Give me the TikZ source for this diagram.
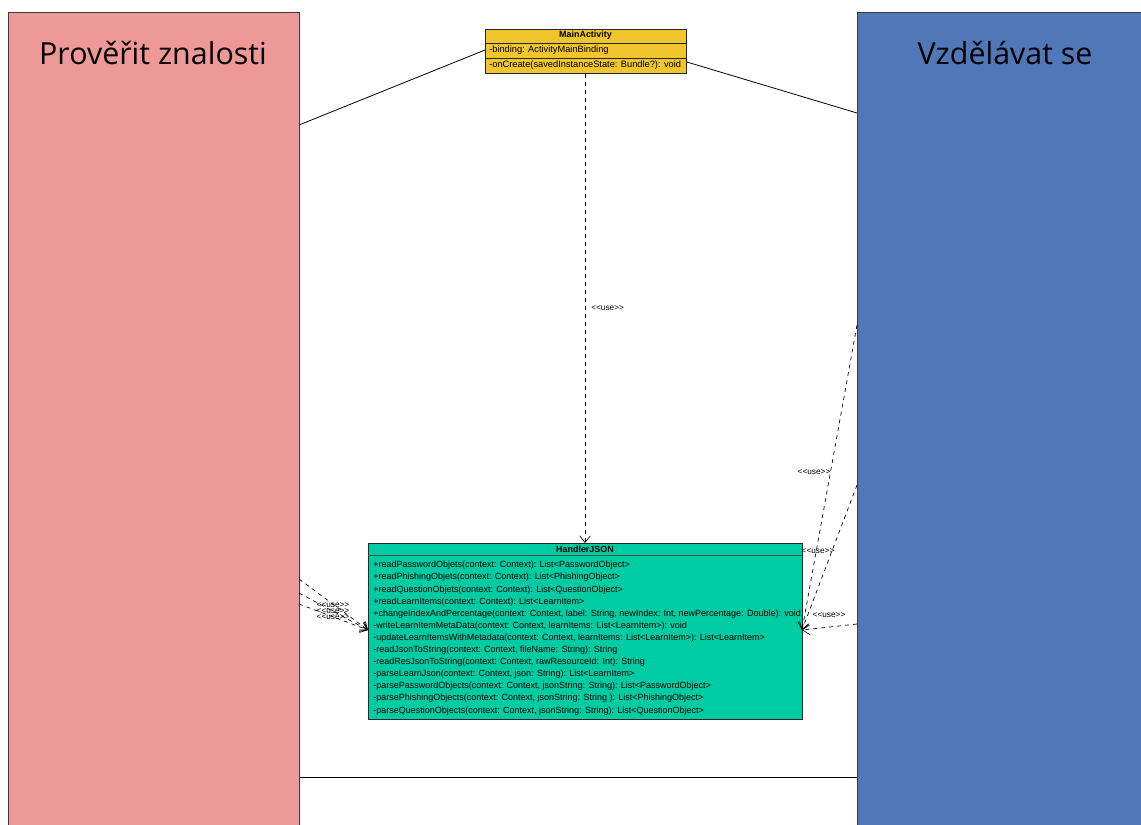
\documentclass[tikz,border=0pt]{standalone}
\usepackage{fontspec}
\setmainfont{Liberation Sans}
\newfontfamily\titlefont{Open Sans}
\usetikzlibrary{arrows.meta}
\definecolor{pinkc}{RGB}{238,153,152}
\definecolor{bluec}{RGB}{80,120,184}
\definecolor{goldc}{RGB}{240,197,46}
\definecolor{tealc}{RGB}{0,204,163}
\definecolor{edgec}{RGB}{60,60,60}
\tikzset{
  panel/.style={draw=edgec, line width=0.8pt, anchor=north west, inner sep=0pt},
  ptitle/.style={font=\titlefont\fontsize{22.8}{26}\selectfont, inner sep=0pt},
  umlbox/.style={draw=black!85, line width=0.6pt, anchor=north west, inner sep=0pt},
  umlhead/.style={font=\bfseries\fontsize{6.7}{7}\selectfont, inner sep=0pt},
  umlrow/.style={font=\fontsize{6.75}{7}\selectfont, anchor=west, inner sep=0pt},
  marow/.style={font=\fontsize{6.95}{7}\selectfont, anchor=west, inner sep=0pt},
  assoc/.style={draw=black, line width=0.6pt},
  dep/.style={draw=black, line width=0.5pt, dash pattern=on 3pt off 3pt, -{Straight Barb[length=5pt,width=8pt]}},
  uselbl/.style={font=\fontsize{6.2}{6.5}\selectfont, inner sep=0pt},
}
\begin{document}
\begin{tikzpicture}[x=0.75pt,y=-0.75pt]
\useasboundingbox (0,0) rectangle (1141,824);
\fill[white] (0,0) rectangle (1141,824);
\begin{scope}
\clip (0,0) rectangle (1141,824);
\node[panel, fill=pinkc, minimum width=218.25pt, minimum height=630pt] (pink) at (8,12) {};
\node[panel, fill=bluec, minimum width=225pt, minimum height=630pt] (blue) at (857,12) {};
\end{scope}
\node[ptitle] (pinkt) at (153,53) {Prověřit znalosti};
\node[ptitle] (bluet) at (1005,53) {Vzdělávat se};

% MainActivity
\node[umlbox, fill=goldc, minimum width=150.75pt, minimum height=33pt] (ma) at (485,29) {};
\draw[black!85, line width=0.6pt] (485,43) -- (686,43);
\draw[black!85, line width=0.6pt] (485,58) -- (686,58);
\node[umlhead] (mah) at (585.5,35.5) {MainActivity};
\node[marow] (mar1) at (489,50.5) {-binding: ActivityMainBinding};
\node[marow] (mar2) at (489,65.5) {-onCreate(savedInstanceState: Bundle?): void};

% HandlerJSON
\node[umlbox, fill=tealc, minimum width=325.5pt, minimum height=132pt] (hj) at (368,543) {};
\draw[black!70, line width=0.6pt] (368,555) -- (802,555);
\node[umlhead] (hjh) at (585,549) {HandlerJSON};
\foreach \t [count=\i from 0] in {
 {+readPasswordObjets(context: Context): List<PasswordObject>},
 {+readPhishingObjets(context: Context): List<PhishingObject>},
 {+readQuestionObjets(context: Context): List<QuestionObject>},
 {+readLearnItems(context: Context): List<LearnItem>},
 {+changeIndexAndPercentage(context: Context, label: String, newIndex: Int, newPercentage: Double): void},
 {-writeLearnItemMetaData(context: Context, learnItems: List<LearnItem>): void},
 {-updateLearnItemsWithMetadata(context: Context, learnItems: List<LearnItem>): List<LearnItem>},
 {-readJsonToString(context: Context, fileName: String): String},
 {-readResJsonToString(context: Context, rawResourceId: Int): String},
 {-parseLearnJson(context: Context, json: String): List<LearnItem>},
 {-parsePasswordObjects(context: Context, jsonString: String): List<PasswordObject>},
 {-parsePhishingObjects(context: Context, jsonString: String ): List<PhishingObject>},
 {-parseQuestionObjects(context: Context, jsonString: String): List<QuestionObject>}}
 { \node[umlrow] (hjr\i) at (373,{565.5+12.1*\i}) {\t}; }

% association lines
\coordinate (pa) at (299,125);
\coordinate (ba) at (857,113);
\draw[assoc] (ma.west |- 0,50) -- (pa);
\draw[assoc] (ma.east |- 0,62) -- (ba);
\draw[assoc] (pink.east |- 0,777) -- (blue.west |- 0,777);

% dependencies
\draw[dep] (ma.south -| 585,0) -- (hj.north -| 585,0)
  node[uselbl, pos=0.5, anchor=west, xshift=4.5pt] (u0) {<{}<use>{}>};
\coordinate (pl1) at (299,579);
\coordinate (pl2) at (299,593);
\coordinate (pl3) at (299,604);
\coordinate (hl) at (368,630);
\draw[dep] (pl1) -- (hl);
\draw[dep] (pl2) -- (hl);
\draw[dep] (pl3) -- (hl);
\node[uselbl] (u1) at (333,605) {<{}<use>{}>};
\node[uselbl] (u2) at (333,611) {<{}<use>{}>};
\node[uselbl] (u3) at (333,617) {<{}<use>{}>};
\coordinate (br1) at (857,325);
\coordinate (br2) at (857,485);
\coordinate (br3) at (857,624);
\coordinate (hr) at (802,630);
\draw[dep] (br1) -- (hr);
\draw[dep] (br2) -- (hr);
\draw[dep] (br3) -- (hr);
\node[uselbl] (u4) at (814,472) {<{}<use>{}>};
\node[uselbl] (u5) at (818,551) {<{}<use>{}>};
\node[uselbl] (u6) at (829,615) {<{}<use>{}>};
\end{tikzpicture}
\end{document}
